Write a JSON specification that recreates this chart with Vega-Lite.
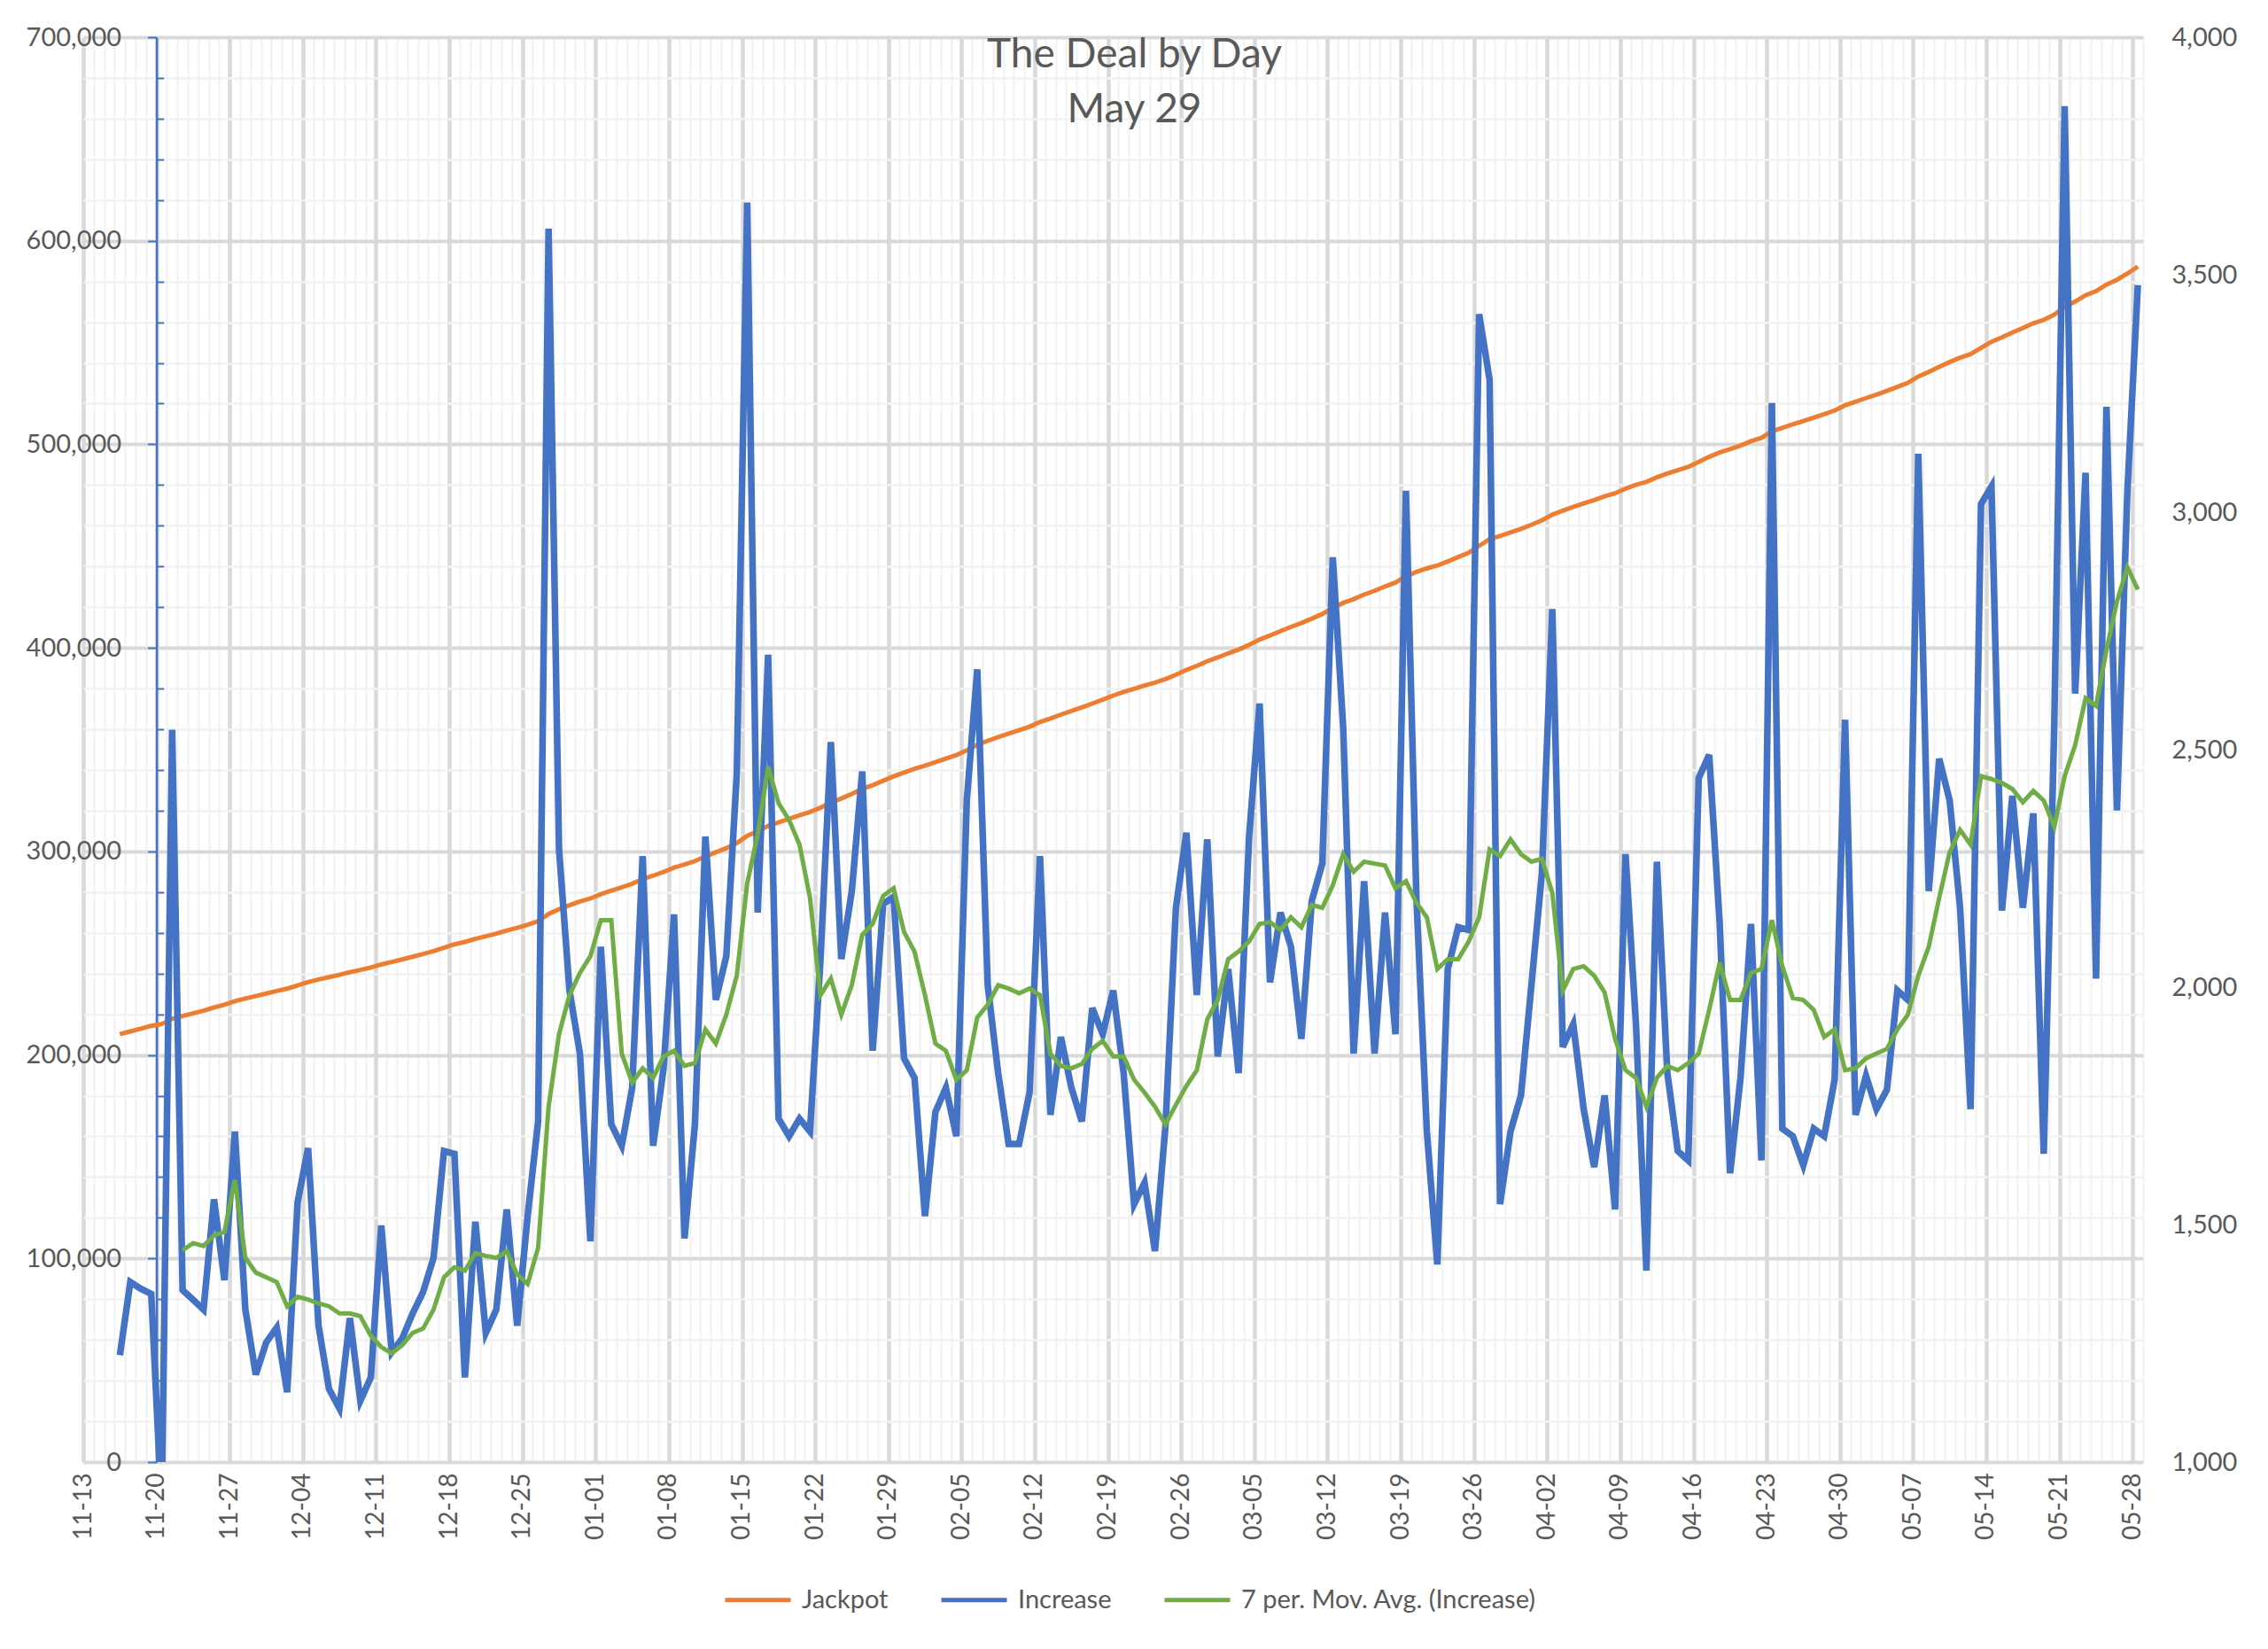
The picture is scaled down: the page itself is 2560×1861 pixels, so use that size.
{
  "$schema": "https://vega.github.io/schema/vega-lite/v6.json",
  "width": 2325,
  "height": 1608,
  "autosize": "none",
  "padding": {"left": 94, "top": 42, "right": 141, "bottom": 211},
  "background": "white",
  "title": {
    "text": ["The Deal by Day", "May 29"],
    "anchor": "middle",
    "frame": "group",
    "font": "Lato",
    "fontSize": 46,
    "fontWeight": "normal",
    "color": "#595959",
    "lineHeight": 62,
    "baseline": "top",
    "offset": -50,
    "dx": 24,
    "dy": 70
  },
  "config": {
    "view": {"stroke": null},
    "font": "Lato",
    "legend": {
      "orient": "none",
      "legendX": 722,
      "legendY": 1724,
      "direction": "horizontal",
      "symbolType": "stroke",
      "symbolStrokeWidth": 5,
      "symbolSize": 5476,
      "labelFont": "Lato",
      "labelFontSize": 29,
      "labelColor": "#595959",
      "labelLimit": 800,
      "labelOffset": 10,
      "columnPadding": 49
    }
  },
  "data": {
    "values": [
      {"date": "2022-11-16", "jackpot": 210200, "increase": 1225},
      {"date": "2022-11-17", "jackpot": 211579, "increase": 1379},
      {"date": "2022-11-18", "jackpot": 212944, "increase": 1365},
      {"date": "2022-11-19", "jackpot": 214298, "increase": 1354},
      {"date": "2022-11-20", "jackpot": 215198, "increase": 900},
      {"date": "2022-11-21", "jackpot": 217740, "increase": 2542},
      {"date": "2022-11-22", "jackpot": 219102, "increase": 1362, "avg": 1446},
      {"date": "2022-11-23", "jackpot": 220444, "increase": 1342, "avg": 1461},
      {"date": "2022-11-24", "jackpot": 221765, "increase": 1321, "avg": 1455},
      {"date": "2022-11-25", "jackpot": 223318, "increase": 1553, "avg": 1477},
      {"date": "2022-11-26", "jackpot": 224701, "increase": 1383, "avg": 1485},
      {"date": "2022-11-27", "jackpot": 226397, "increase": 1696, "avg": 1594},
      {"date": "2022-11-28", "jackpot": 227718, "increase": 1321, "avg": 1430},
      {"date": "2022-11-29", "jackpot": 228902, "increase": 1184, "avg": 1399},
      {"date": "2022-11-30", "jackpot": 230154, "increase": 1252, "avg": 1389},
      {"date": "2022-12-01", "jackpot": 231437, "increase": 1283, "avg": 1379},
      {"date": "2022-12-02", "jackpot": 232584, "increase": 1147, "avg": 1328},
      {"date": "2022-12-03", "jackpot": 234131, "increase": 1547, "avg": 1348},
      {"date": "2022-12-04", "jackpot": 235792, "increase": 1661, "avg": 1342},
      {"date": "2022-12-05", "jackpot": 237079, "increase": 1287, "avg": 1334},
      {"date": "2022-12-06", "jackpot": 238233, "increase": 1154, "avg": 1328},
      {"date": "2022-12-07", "jackpot": 239346, "increase": 1113, "avg": 1313},
      {"date": "2022-12-08", "jackpot": 240649, "increase": 1303, "avg": 1313},
      {"date": "2022-12-09", "jackpot": 241778, "increase": 1129, "avg": 1307},
      {"date": "2022-12-10", "jackpot": 242956, "increase": 1178, "avg": 1266},
      {"date": "2022-12-11", "jackpot": 244454, "increase": 1498, "avg": 1242},
      {"date": "2022-12-12", "jackpot": 245685, "increase": 1231, "avg": 1229},
      {"date": "2022-12-13", "jackpot": 246945, "increase": 1260, "avg": 1246},
      {"date": "2022-12-14", "jackpot": 248258, "increase": 1313, "avg": 1272},
      {"date": "2022-12-15", "jackpot": 249616, "increase": 1358, "avg": 1281},
      {"date": "2022-12-16", "jackpot": 251046, "increase": 1430, "avg": 1321},
      {"date": "2022-12-17", "jackpot": 252701, "increase": 1655, "avg": 1389},
      {"date": "2022-12-18", "jackpot": 254350, "increase": 1649, "avg": 1410},
      {"date": "2022-12-19", "jackpot": 255528, "increase": 1178, "avg": 1403},
      {"date": "2022-12-20", "jackpot": 257034, "increase": 1506, "avg": 1440},
      {"date": "2022-12-21", "jackpot": 258306, "increase": 1272, "avg": 1434},
      {"date": "2022-12-22", "jackpot": 259627, "increase": 1321, "avg": 1430},
      {"date": "2022-12-23", "jackpot": 261159, "increase": 1532, "avg": 1444},
      {"date": "2022-12-24", "jackpot": 262446, "increase": 1287, "avg": 1395},
      {"date": "2022-12-25", "jackpot": 263964, "increase": 1518, "avg": 1375},
      {"date": "2022-12-26", "jackpot": 265681, "increase": 1717, "avg": 1451},
      {"date": "2022-12-27", "jackpot": 269278, "increase": 3597, "avg": 1748},
      {"date": "2022-12-28", "jackpot": 271568, "increase": 2290, "avg": 1901},
      {"date": "2022-12-29", "jackpot": 273561, "increase": 1993, "avg": 1983},
      {"date": "2022-12-30", "jackpot": 275421, "increase": 1860, "avg": 2030},
      {"date": "2022-12-31", "jackpot": 276886, "increase": 1465, "avg": 2065},
      {"date": "2023-01-01", "jackpot": 278971, "increase": 2085, "avg": 2141},
      {"date": "2023-01-02", "jackpot": 280682, "increase": 1711, "avg": 2141},
      {"date": "2023-01-03", "jackpot": 282348, "increase": 1666, "avg": 1860},
      {"date": "2023-01-04", "jackpot": 284136, "increase": 1788, "avg": 1799},
      {"date": "2023-01-05", "jackpot": 286412, "increase": 2276, "avg": 1829},
      {"date": "2023-01-06", "jackpot": 288078, "increase": 1666, "avg": 1809},
      {"date": "2023-01-07", "jackpot": 289907, "increase": 1829, "avg": 1854},
      {"date": "2023-01-08", "jackpot": 292060, "increase": 2153, "avg": 1866},
      {"date": "2023-01-09", "jackpot": 293531, "increase": 1471, "avg": 1834},
      {"date": "2023-01-10", "jackpot": 295242, "increase": 1711, "avg": 1840},
      {"date": "2023-01-11", "jackpot": 297559, "increase": 2317, "avg": 1911},
      {"date": "2023-01-12", "jackpot": 299532, "increase": 1973, "avg": 1881},
      {"date": "2023-01-13", "jackpot": 301597, "increase": 2065, "avg": 1942},
      {"date": "2023-01-14", "jackpot": 304045, "increase": 2448, "avg": 2024},
      {"date": "2023-01-15", "jackpot": 307697, "increase": 3652, "avg": 2219},
      {"date": "2023-01-16", "jackpot": 309854, "increase": 2157, "avg": 2321},
      {"date": "2023-01-17", "jackpot": 312554, "increase": 2700, "avg": 2464},
      {"date": "2023-01-18", "jackpot": 314277, "increase": 1723, "avg": 2387},
      {"date": "2023-01-19", "jackpot": 315963, "increase": 1686, "avg": 2352},
      {"date": "2023-01-20", "jackpot": 317686, "increase": 1723, "avg": 2300},
      {"date": "2023-01-21", "jackpot": 319382, "increase": 1696, "avg": 2188},
      {"date": "2023-01-22", "jackpot": 321437, "increase": 2055, "avg": 1983},
      {"date": "2023-01-23", "jackpot": 323953, "increase": 2516, "avg": 2018},
      {"date": "2023-01-24", "jackpot": 326012, "increase": 2059, "avg": 1942},
      {"date": "2023-01-25", "jackpot": 328214, "increase": 2202, "avg": 2004},
      {"date": "2023-01-26", "jackpot": 330668, "increase": 2454, "avg": 2110},
      {"date": "2023-01-27", "jackpot": 332534, "increase": 1866, "avg": 2133},
      {"date": "2023-01-28", "jackpot": 334709, "increase": 2175, "avg": 2192},
      {"date": "2023-01-29", "jackpot": 336899, "increase": 2190, "avg": 2208},
      {"date": "2023-01-30", "jackpot": 338749, "increase": 1850, "avg": 2116},
      {"date": "2023-01-31", "jackpot": 340558, "increase": 1809, "avg": 2075},
      {"date": "2023-02-01", "jackpot": 342076, "increase": 1518, "avg": 1983},
      {"date": "2023-02-02", "jackpot": 343813, "increase": 1737, "avg": 1881},
      {"date": "2023-02-03", "jackpot": 345601, "increase": 1788, "avg": 1866},
      {"date": "2023-02-04", "jackpot": 347287, "increase": 1686, "avg": 1805},
      {"date": "2023-02-05", "jackpot": 349680, "increase": 2393, "avg": 1825},
      {"date": "2023-02-06", "jackpot": 352349, "increase": 2669, "avg": 1936},
      {"date": "2023-02-07", "jackpot": 354353, "increase": 2004, "avg": 1963},
      {"date": "2023-02-08", "jackpot": 356172, "increase": 1819, "avg": 2004},
      {"date": "2023-02-09", "jackpot": 357842, "increase": 1670, "avg": 1997},
      {"date": "2023-02-10", "jackpot": 359512, "increase": 1670, "avg": 1987},
      {"date": "2023-02-11", "jackpot": 361290, "increase": 1778, "avg": 1997},
      {"date": "2023-02-12", "jackpot": 363566, "increase": 2276, "avg": 1983},
      {"date": "2023-02-13", "jackpot": 365297, "increase": 1731, "avg": 1860},
      {"date": "2023-02-14", "jackpot": 367192, "increase": 1895, "avg": 1834},
      {"date": "2023-02-15", "jackpot": 368980, "increase": 1788, "avg": 1829},
      {"date": "2023-02-16", "jackpot": 370697, "increase": 1717, "avg": 1838},
      {"date": "2023-02-17", "jackpot": 372653, "increase": 1956, "avg": 1870},
      {"date": "2023-02-18", "jackpot": 374554, "increase": 1901, "avg": 1887},
      {"date": "2023-02-19", "jackpot": 376547, "increase": 1993, "avg": 1854},
      {"date": "2023-02-20", "jackpot": 378366, "increase": 1819, "avg": 1854},
      {"date": "2023-02-21", "jackpot": 379909, "increase": 1543, "avg": 1805},
      {"date": "2023-02-22", "jackpot": 381497, "increase": 1588, "avg": 1778},
      {"date": "2023-02-23", "jackpot": 382941, "increase": 1444, "avg": 1748},
      {"date": "2023-02-24", "jackpot": 384648, "increase": 1707, "avg": 1711},
      {"date": "2023-02-25", "jackpot": 386815, "increase": 2167, "avg": 1752},
      {"date": "2023-02-26", "jackpot": 389140, "increase": 2325, "avg": 1792},
      {"date": "2023-02-27", "jackpot": 391123, "increase": 1983, "avg": 1825},
      {"date": "2023-02-28", "jackpot": 393434, "increase": 2311, "avg": 1932},
      {"date": "2023-03-01", "jackpot": 395288, "increase": 1854, "avg": 1973},
      {"date": "2023-03-02", "jackpot": 397326, "increase": 2038, "avg": 2059},
      {"date": "2023-03-03", "jackpot": 399145, "increase": 1819, "avg": 2075},
      {"date": "2023-03-04", "jackpot": 401462, "increase": 2317, "avg": 2096},
      {"date": "2023-03-05", "jackpot": 404059, "increase": 2597, "avg": 2133},
      {"date": "2023-03-06", "jackpot": 406069, "increase": 2010, "avg": 2137},
      {"date": "2023-03-07", "jackpot": 408226, "increase": 2157, "avg": 2120},
      {"date": "2023-03-08", "jackpot": 410311, "increase": 2085, "avg": 2147},
      {"date": "2023-03-09", "jackpot": 412202, "increase": 1891, "avg": 2126},
      {"date": "2023-03-10", "jackpot": 414384, "increase": 2182, "avg": 2173},
      {"date": "2023-03-11", "jackpot": 416644, "increase": 2260, "avg": 2167},
      {"date": "2023-03-12", "jackpot": 419549, "increase": 2905, "avg": 2214},
      {"date": "2023-03-13", "jackpot": 422095, "increase": 2546, "avg": 2280},
      {"date": "2023-03-14", "jackpot": 423955, "increase": 1860, "avg": 2243},
      {"date": "2023-03-15", "jackpot": 426178, "increase": 2223, "avg": 2264},
      {"date": "2023-03-16", "jackpot": 428038, "increase": 1860, "avg": 2260},
      {"date": "2023-03-17", "jackpot": 430195, "increase": 2157, "avg": 2256},
      {"date": "2023-03-18", "jackpot": 432096, "increase": 1901, "avg": 2208},
      {"date": "2023-03-19", "jackpot": 435141, "increase": 3045, "avg": 2223},
      {"date": "2023-03-20", "jackpot": 437329, "increase": 2188, "avg": 2178},
      {"date": "2023-03-21", "jackpot": 439025, "increase": 1696, "avg": 2147},
      {"date": "2023-03-22", "jackpot": 440441, "increase": 1416, "avg": 2038},
      {"date": "2023-03-23", "jackpot": 442479, "increase": 2038, "avg": 2059},
      {"date": "2023-03-24", "jackpot": 444605, "increase": 2126, "avg": 2059},
      {"date": "2023-03-25", "jackpot": 446725, "increase": 2120, "avg": 2096},
      {"date": "2023-03-26", "jackpot": 450142, "increase": 3417, "avg": 2147},
      {"date": "2023-03-27", "jackpot": 453421, "increase": 3279, "avg": 2290},
      {"date": "2023-03-28", "jackpot": 454964, "increase": 1543, "avg": 2276},
      {"date": "2023-03-29", "jackpot": 456660, "increase": 1696, "avg": 2311},
      {"date": "2023-03-30", "jackpot": 458432, "increase": 1772, "avg": 2280},
      {"date": "2023-03-31", "jackpot": 460436, "increase": 2004, "avg": 2264},
      {"date": "2023-04-01", "jackpot": 462675, "increase": 2239, "avg": 2270},
      {"date": "2023-04-02", "jackpot": 465471, "increase": 2796, "avg": 2198},
      {"date": "2023-04-03", "jackpot": 467345, "increase": 1874, "avg": 1993},
      {"date": "2023-04-04", "jackpot": 469267, "increase": 1922, "avg": 2038},
      {"date": "2023-04-05", "jackpot": 471010, "increase": 1743, "avg": 2044},
      {"date": "2023-04-06", "jackpot": 472631, "increase": 1621, "avg": 2024},
      {"date": "2023-04-07", "jackpot": 474403, "increase": 1772, "avg": 1989},
      {"date": "2023-04-08", "jackpot": 475935, "increase": 1532, "avg": 1891},
      {"date": "2023-04-09", "jackpot": 478215, "increase": 2280, "avg": 1825},
      {"date": "2023-04-10", "jackpot": 480137, "increase": 1922, "avg": 1809},
      {"date": "2023-04-11", "jackpot": 481540, "increase": 1403, "avg": 1748},
      {"date": "2023-04-12", "jackpot": 483804, "increase": 2264, "avg": 1809},
      {"date": "2023-04-13", "jackpot": 485623, "increase": 1819, "avg": 1834},
      {"date": "2023-04-14", "jackpot": 487278, "increase": 1655, "avg": 1825},
      {"date": "2023-04-15", "jackpot": 488913, "increase": 1635, "avg": 1840},
      {"date": "2023-04-16", "jackpot": 491353, "increase": 2440, "avg": 1860},
      {"date": "2023-04-17", "jackpot": 493842, "increase": 2489, "avg": 1952},
      {"date": "2023-04-18", "jackpot": 495979, "increase": 2137, "avg": 2051},
      {"date": "2023-04-19", "jackpot": 497587, "increase": 1608, "avg": 1973},
      {"date": "2023-04-20", "jackpot": 499396, "increase": 1809, "avg": 1973},
      {"date": "2023-04-21", "jackpot": 501529, "increase": 2133, "avg": 2030},
      {"date": "2023-04-22", "jackpot": 503164, "increase": 1635, "avg": 2038},
      {"date": "2023-04-23", "jackpot": 506394, "increase": 3230, "avg": 2141},
      {"date": "2023-04-24", "jackpot": 508096, "increase": 1702, "avg": 2044},
      {"date": "2023-04-25", "jackpot": 509782, "increase": 1686, "avg": 1977},
      {"date": "2023-04-26", "jackpot": 511407, "increase": 1625, "avg": 1973},
      {"date": "2023-04-27", "jackpot": 513109, "increase": 1702, "avg": 1952},
      {"date": "2023-04-28", "jackpot": 514795, "increase": 1686, "avg": 1895},
      {"date": "2023-04-29", "jackpot": 516600, "increase": 1805, "avg": 1911},
      {"date": "2023-04-30", "jackpot": 519163, "increase": 2563, "avg": 1825},
      {"date": "2023-05-01", "jackpot": 520894, "increase": 1731, "avg": 1829},
      {"date": "2023-05-02", "jackpot": 522707, "increase": 1813, "avg": 1850},
      {"date": "2023-05-03", "jackpot": 524450, "increase": 1743, "avg": 1860},
      {"date": "2023-05-04", "jackpot": 526234, "increase": 1784, "avg": 1870},
      {"date": "2023-05-05", "jackpot": 528227, "increase": 1993, "avg": 1911},
      {"date": "2023-05-06", "jackpot": 530200, "increase": 1973, "avg": 1942},
      {"date": "2023-05-07", "jackpot": 533323, "increase": 3123, "avg": 2024},
      {"date": "2023-05-08", "jackpot": 535525, "increase": 2202, "avg": 2085},
      {"date": "2023-05-09", "jackpot": 538006, "increase": 2481, "avg": 2188},
      {"date": "2023-05-10", "jackpot": 540399, "increase": 2393, "avg": 2284},
      {"date": "2023-05-11", "jackpot": 542566, "increase": 2167, "avg": 2331},
      {"date": "2023-05-12", "jackpot": 544309, "increase": 1743, "avg": 2300},
      {"date": "2023-05-13", "jackpot": 547326, "increase": 3017, "avg": 2444},
      {"date": "2023-05-14", "jackpot": 550380, "increase": 3054, "avg": 2438},
      {"date": "2023-05-15", "jackpot": 552541, "increase": 2161, "avg": 2430},
      {"date": "2023-05-16", "jackpot": 554944, "increase": 2403, "avg": 2417},
      {"date": "2023-05-17", "jackpot": 557111, "increase": 2167, "avg": 2389},
      {"date": "2023-05-18", "jackpot": 559477, "increase": 2366, "avg": 2413},
      {"date": "2023-05-19", "jackpot": 561126, "increase": 1649, "avg": 2393},
      {"date": "2023-05-20", "jackpot": 563672, "increase": 2546, "avg": 2337},
      {"date": "2023-05-21", "jackpot": 567527, "increase": 3855, "avg": 2444},
      {"date": "2023-05-22", "jackpot": 570145, "increase": 2618, "avg": 2509},
      {"date": "2023-05-23", "jackpot": 573228, "increase": 3083, "avg": 2608},
      {"date": "2023-05-24", "jackpot": 575246, "increase": 2018, "avg": 2592},
      {"date": "2023-05-25", "jackpot": 578468, "increase": 3222, "avg": 2710},
      {"date": "2023-05-26", "jackpot": 580840, "increase": 2372, "avg": 2812},
      {"date": "2023-05-27", "jackpot": 583885, "increase": 3045, "avg": 2884},
      {"date": "2023-05-28", "jackpot": 587363, "increase": 3478, "avg": 2837}
    ]
  },
  "encoding": {
    "x": {
      "field": "date",
      "type": "temporal",
      "timeUnit": "utcyearmonthdate",
      "bandPosition": 0.5,
      "scale": {
        "type": "utc",
        "domain": [
          {"year": 2022, "month": 11, "date": 13, "utc": true},
          {"year": 2023, "month": 5, "date": 29, "utc": true}
        ]
      },
      "axis": {
        "title": null,
        "orient": "bottom",
        "tickCount": {"interval": "day", "step": 1},
        "labelExpr": "(round((datum.value - utc(2022, 10, 13)) / 86400000) % 7 === 0) ? utcFormat(datum.value, '%m-%d') : ''",
        "labelAngle": -90,
        "labelOverlap": false,
        "labelPadding": 12,
        "labelFont": "Lato",
        "labelFontSize": 28,
        "labelColor": "#595959",
        "ticks": false,
        "domain": false,
        "grid": true,
        "gridColor": {"condition": {"test": "round((datum.value - utc(2022, 10, 13)) / 86400000) % 7 === 0", "value": "#d9d9d9"}, "value": "#f2f2f2"},
        "gridWidth": {"condition": {"test": "round((datum.value - utc(2022, 10, 13)) / 86400000) % 7 === 0", "value": 4.5}, "value": 2}
      }
    }
  },
  "layer": [
    {
      "mark": {"type": "line", "strokeWidth": 5},
      "encoding": {
        "y": {
          "field": "jackpot",
          "type": "quantitative",
          "scale": {"domain": [0, 700000], "nice": false},
          "axis": {
            "title": null,
            "orient": "left",
            "offset": -82.6,
            "tickCount": 35,
            "labelExpr": "datum.value % 100000 === 0 ? format(datum.value, ',') : ''",
            "labelFont": "Lato",
            "labelFontSize": 29,
            "labelColor": "#595959",
            "labelPadding": 30,
            "domainColor": "#4472C4",
            "domainWidth": 2.5,
            "tickColor": "#4472C4",
            "tickWidth": 2,
            "tickSize": {"condition": {"test": "datum.value % 100000 === 0", "value": 10}, "value": -8},
            "grid": true,
            "gridColor": {"condition": {"test": "datum.value % 100000 === 0", "value": "#d9d9d9"}, "value": "#f2f2f2"},
            "gridWidth": {"condition": {"test": "datum.value % 100000 === 0", "value": 4}, "value": 2.5}
          }
        },
        "color": {
          "datum": "Jackpot",
          "scale": {
            "domain": ["Jackpot", "Increase", "7 per. Mov. Avg. (Increase)"],
            "range": ["#ED7D31", "#4472C4", "#70AD47"]
          },
          "legend": {"title": null}
        }
      }
    },
    {
      "layer": [
        {
          "mark": {"type": "line", "strokeWidth": 7.5, "clip": true},
          "encoding": {
            "y": {
              "field": "increase",
              "type": "quantitative",
              "scale": {"domain": [1000, 4000], "nice": false},
              "axis": {
                "title": null,
                "orient": "right",
                "tickCount": 6,
                "format": ",d",
                "grid": false,
                "ticks": false,
                "domain": false,
                "labelPadding": 32,
                "labelFont": "Lato",
                "labelFontSize": 29,
                "labelColor": "#595959"
              }
            },
            "color": {"datum": "Increase"}
          }
        },
        {
          "mark": {"type": "line", "strokeWidth": 5},
          "encoding": {
            "y": {
              "field": "avg",
              "type": "quantitative",
              "scale": {"domain": [1000, 4000], "nice": false},
              "axis": {
                "title": null,
                "orient": "right",
                "tickCount": 6,
                "format": ",d",
                "grid": false,
                "ticks": false,
                "domain": false,
                "labelPadding": 32,
                "labelFont": "Lato",
                "labelFontSize": 29,
                "labelColor": "#595959"
              }
            },
            "color": {"datum": "7 per. Mov. Avg. (Increase)"}
          }
        }
      ]
    }
  ],
  "resolve": {"scale": {"y": "independent"}}
}
